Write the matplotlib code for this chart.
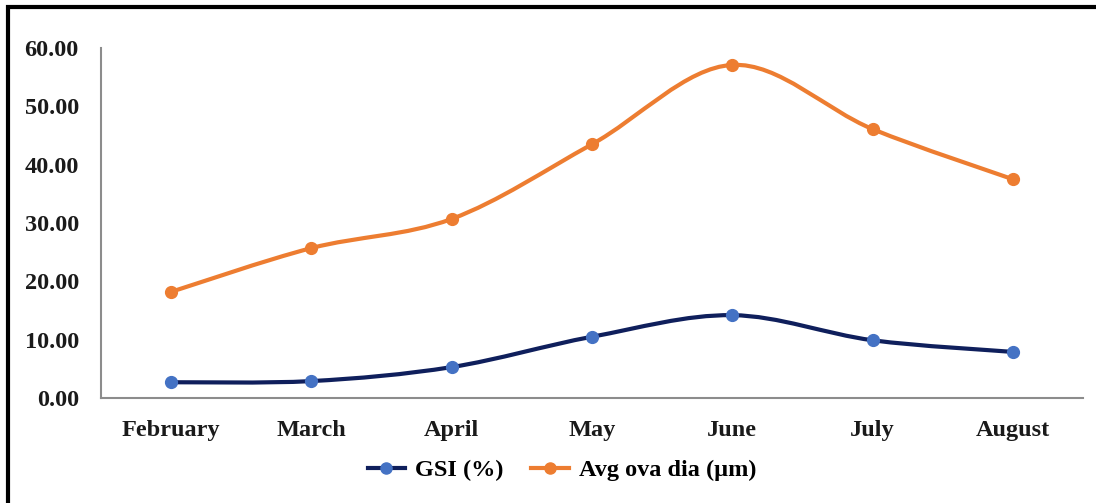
import numpy as np
import matplotlib
matplotlib.use("Agg")
import matplotlib.pyplot as plt
from matplotlib.path import Path
from matplotlib.patches import PathPatch, Rectangle
from matplotlib.lines import Line2D

months = ["February", "March", "April", "May", "June", "July", "August"]
gsi = [2.7, 2.9, 5.3, 10.5, 14.2, 9.9, 7.9]
ova_dia = [18.2, 25.7, 30.7, 43.5, 57.1, 46.1, 37.5]
yticks = [0, 10, 20, 30, 40, 50, 60]

GSI_LINE = "#0f1f5c"
GSI_DOT = "#4472c4"
OVA = "#ed7d31"

plt.rcParams["font.family"] = ["Liberation Serif", "DejaVu Serif"]
plt.rcParams["font.weight"] = "bold"


def smooth_path(x, y):
    # excel-style smoothed line: cubic bezier segments, tension 1/6
    pts = np.column_stack([x, y]).astype(float)
    ext = np.vstack([pts[0], pts, pts[-1]])
    verts = [pts[0]]
    codes = [Path.MOVETO]
    for i in range(1, len(ext) - 2):
        p0, p1, p2, p3 = ext[i - 1], ext[i], ext[i + 1], ext[i + 2]
        c1 = p1 + (p2 - p0) / 6.0
        c2 = p2 - (p3 - p1) / 6.0
        verts += [c1, c2, p2]
        codes += [Path.CURVE4] * 3
    return Path(verts, codes)


fig = plt.figure(figsize=(10.96, 5.03), dpi=100)
ax = fig.add_axes([101 / 1096, 1 - 398 / 503, 982 / 1096, 350 / 503])

x = np.arange(len(months))
for vals, lc, mc in [(gsi, GSI_LINE, GSI_DOT), (ova_dia, OVA, OVA)]:
    ax.add_patch(PathPatch(smooth_path(x, vals), facecolor="none",
                           edgecolor=lc, lw=3, zorder=2))
    ax.plot(x, vals, ls="none", marker="o", ms=8.5, color=mc, zorder=3)

ax.set_xlim(-0.5, len(months) - 0.5)
ax.set_ylim(0, 60)
ax.set_yticks(yticks)
ax.set_yticklabels([f"{v:.2f}" for v in yticks])
ax.set_xticks(x)
ax.set_xticklabels(months)
ax.tick_params(length=0, labelsize=17.5, colors="#1a1a1a")
ax.tick_params(axis="y", pad=16)
ax.tick_params(axis="x", pad=16)
for s in ["top", "right"]:
    ax.spines[s].set_visible(False)
for s in ["left", "bottom"]:
    ax.spines[s].set_color("#8c8c8c")
    ax.spines[s].set_linewidth(1.5)

handles = [Line2D([], [], color=GSI_LINE, lw=3, marker="o", ms=8,
                  mfc=GSI_DOT, mec=GSI_DOT),
           Line2D([], [], color=OVA, lw=3, marker="o", ms=8)]
fig.legend(handles, ["GSI (%)", "Avg ova dia (\u00b5m)"], loc="center",
           bbox_to_anchor=(562 / 1096, 1 - 470 / 503), ncol=2, frameon=False,
           fontsize=17.5, handlelength=1.55, handletextpad=0.4,
           columnspacing=1.15)

# outer frame (left and top edges show)
fig.patches.append(Rectangle((8 / 1096, -0.1), 1.2, (503 - 7) / 503 + 0.1,
                             transform=fig.transFigure, fill=False,
                             edgecolor="black", lw=3))

fig.savefig("out.png", dpi=100)
